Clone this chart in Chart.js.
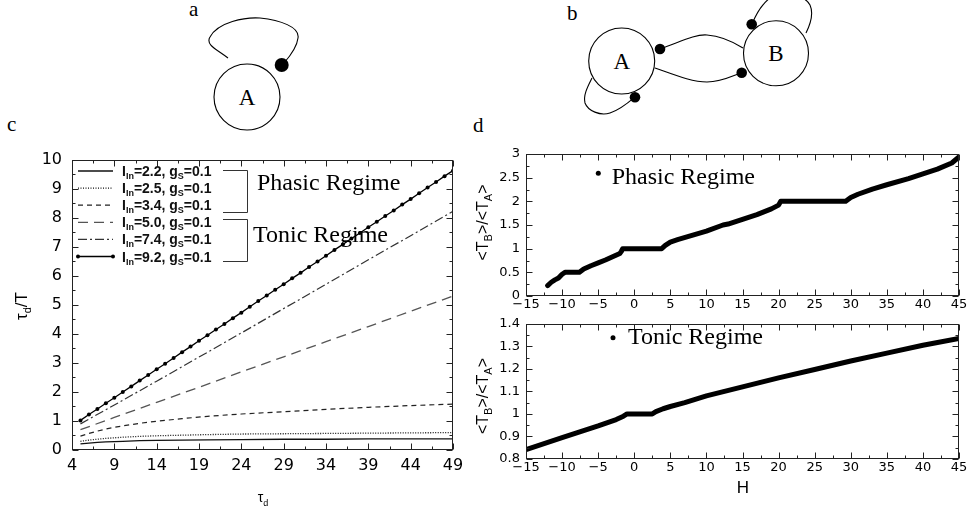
<!DOCTYPE html>
<html><head><meta charset="utf-8">
<script src="https://cdn.jsdelivr.net/npm/chart.js@4.4.1/dist/chart.umd.min.js"></script>
<style>
html,body{margin:0;padding:0;background:#fff;width:969px;height:508px;overflow:hidden;position:relative}
canvas{position:absolute}
#cc{left:0;top:140px}
#dt{left:470px;top:140px}
#db{left:470px;top:310px}
svg{position:absolute;left:0;top:0}
</style></head><body>
<svg width="969" height="140" viewBox="0 0 969 140">
  <g font-family="Liberation Serif" fill="#000">
    <text x="189" y="16" font-size="21">a</text>
    <text x="567" y="20" font-size="21">b</text>
    <text x="7" y="131" font-size="21">c</text>
    <text x="473" y="132" font-size="21">d</text>
  </g>
  <g fill="none" stroke="#000" stroke-width="1.1">
    <circle cx="247" cy="97" r="33"/>
    <path d="M228,58 C218,50 205,45 210,37 C218,22 245,17 260,18 C280,20 300,27 298,38 C297,47 291,55 284,63"/>
    <circle cx="621.7" cy="61" r="33"/>
    <circle cx="776" cy="53.3" r="32.5"/>
    <path d="M660,49 C680,42 695,34 707,35 C722,36 735,43 743,48"/>
    <path d="M655,68 C675,75 692,82 707,82 C722,82 732,76 741,73"/>
    <path d="M752,24 C757,12 762,4 770,-2 C785,-8 805,-5 810,5 C814,14 810,25 806,33"/>
    <path d="M592,78 C588,86 583,95 585,103 C588,111 600,116 610,113 C620,110 628,103 635,97"/>
  </g>
  <g fill="#000">
    <circle cx="281.7" cy="65" r="7"/>
    <circle cx="660" cy="49" r="5.3"/>
    <circle cx="741.7" cy="72.7" r="5.3"/>
    <circle cx="751.7" cy="24.3" r="5.3"/>
    <circle cx="635" cy="97.3" r="5.3"/>
  </g>
  <g font-family="Liberation Serif" font-size="23" fill="#000" text-anchor="middle">
    <text x="247" y="105">A</text>
    <text x="621.7" y="69">A</text>
    <text x="776" y="61">B</text>
  </g>
</svg>
<canvas id="cc" width="470" height="368"></canvas>
<canvas id="dt" width="499" height="176"></canvas>
<canvas id="db" width="499" height="198"></canvas>
<script>
// ---------------- data: panel c ----------------
const tauDense = [5,6,7,8,9,10,11,12,13,14,15,16,17,18,19,20,21,22,23,24,25,26,27,28,29,30,31,32,33,34,35,36,37,38,39,40,41,42,43,44,45,46,47,48,49];
const ratioI92 = [1.02,1.22,1.41,1.61,1.80,2.00,2.19,2.39,2.58,2.78,2.97,3.17,3.37,3.56,3.76,3.95,4.15,4.34,4.54,4.73,4.93,5.13,5.32,5.52,5.71,5.91,6.10,6.30,6.49,6.69,6.89,7.08,7.28,7.47,7.67,7.86,8.06,8.25,8.45,8.64,8.84,9.04,9.23,9.43,9.62];
const tauMid = [5,9,14,19,24,29,34,39,44,49];
const ratioI74 = [0.90,1.55,2.37,3.20,4.03,4.87,5.71,6.55,7.38,8.22];
const ratioI50 = [0.70,1.12,1.64,2.16,2.69,3.21,3.73,4.25,4.78,5.30];
const tauLow = [5,6,7,8,9,10,12,14,17,20,24,29,34,39,44,49];
const ratioI34 = [0.48,0.57,0.65,0.72,0.78,0.83,0.92,0.99,1.08,1.16,1.24,1.32,1.40,1.47,1.53,1.58];
const ratioI25 = [0.30,0.34,0.37,0.40,0.42,0.44,0.47,0.49,0.51,0.53,0.55,0.56,0.57,0.58,0.59,0.60];
const ratioI22 = [0.21,0.24,0.26,0.28,0.29,0.30,0.32,0.33,0.34,0.35,0.36,0.37,0.37,0.38,0.38,0.38];
const legendIin = ['2.2','2.5','3.4','5.0','7.4','9.2'];
const legendGs = '0.1';
const cXRange = [4, 49, 5];
const cYRange = [0, 10, 1];
// ---------------- data: panel d ----------------
const phasicH = [-12,-11.5,-11,-10.5,-10,-9.6,-7.6,-7,-6,-5,-4,-3,-2,-1.8,-1.6,3.8,4.3,5,6,8,10,12.3,13,15,17,19,20,20.3,29.3,30,31,33,35,38,40,42,44,45];
const phasicRatio = [0.22,0.29,0.34,0.38,0.46,0.50,0.50,0.57,0.64,0.70,0.76,0.83,0.90,0.94,1.00,1.00,1.07,1.14,1.19,1.28,1.37,1.50,1.52,1.62,1.72,1.84,1.92,2.00,2.00,2.08,2.15,2.26,2.35,2.48,2.58,2.68,2.81,2.94];
const tonicH = [-15,-10,-5,-2.5,-1.5,-1,2.5,3,4,5,7,10,15,20,25,30,35,40,45];
const tonicRatio = [0.842,0.895,0.947,0.975,0.99,1.0,1.0,1.01,1.023,1.033,1.05,1.08,1.12,1.16,1.197,1.235,1.27,1.305,1.335];
const dXRange = [-15, 45, 5];
const dTopYRange = [0, 3, 0.5];
const dBotYRange = [0.8, 1.4, 0.1];

const xy = (xs, ys) => xs.map((x, i) => ({x, y: ys[i]}));
const fmt = v => String(Math.round(v * 100) / 100).replace('-', '\u2212');

function richText(ctx, parts, x, y, align, font, subFont, subDy) {
  let w = 0;
  parts.forEach(p => { ctx.font = p[1] ? subFont : font; w += ctx.measureText(p[0]).width; });
  let cx = align === 'center' ? x - w / 2 : align === 'right' ? x - w : x;
  ctx.textAlign = 'left'; ctx.textBaseline = 'alphabetic';
  parts.forEach(p => {
    ctx.font = p[1] ? subFont : font;
    ctx.fillText(p[0], cx, y + (p[1] ? subDy : 0));
    cx += ctx.measureText(p[0]).width;
  });
}

const gnuFrame = {
  id: 'gnuFrame',
  afterDatasetsDraw(chart, args, o) {
    const {ctx, chartArea: a} = chart;
    const xs = chart.scales.x, ys = chart.scales.y;
    ctx.save();
    ctx.strokeStyle = '#222'; ctx.lineWidth = 1; ctx.setLineDash([]);
    const L = Math.round(a.left) + 0.5, R = Math.round(a.right) - 0.5, T = Math.round(a.top) + 0.5, B = Math.round(a.bottom) - 0.5;
    ctx.strokeRect(L, T, R - L, B - T);
    const ticksOf = (scale, sub) => {
      const maj = scale.ticks.map(t => t.value); const out = [];
      maj.forEach((v, i) => {
        out.push([v, 6]);
        if (i < maj.length - 1) for (let k = 1; k < sub; k++) out.push([v + (maj[i + 1] - v) * k / sub, 3]);
      });
      return out;
    };
    ctx.beginPath();
    ticksOf(xs, o.xMinor).forEach(([v, len]) => {
      const p = Math.round(xs.getPixelForValue(v)) + 0.5;
      ctx.moveTo(p, B); ctx.lineTo(p, B - len);
      ctx.moveTo(p, T); ctx.lineTo(p, T + len);
    });
    ticksOf(ys, o.yMinor).forEach(([v, len]) => {
      const p = Math.round(ys.getPixelForValue(v)) + 0.5;
      ctx.moveTo(L, p); ctx.lineTo(L + len, p);
      ctx.moveTo(R, p); ctx.lineTo(R - len, p);
    });
    ctx.stroke();
    ctx.restore();
  }
};

const cDecor = {
  id: 'cDecor',
  afterDraw(chart) {
    const ctx = chart.ctx; ctx.save();
    chart.data.datasets.forEach((ds, i) => {
      const y = 31 + i * 17.1;
      ctx.strokeStyle = ds.borderColor; ctx.lineWidth = ds.borderWidth; ctx.setLineDash(ds.borderDash || []);
      ctx.beginPath(); ctx.moveTo(78, y); ctx.lineTo(113, y); ctx.stroke();
      ctx.setLineDash([]);
      if (ds.pointRadius > 0) {
        ctx.fillStyle = '#000';
        [78, 113].forEach(px => { ctx.beginPath(); ctx.arc(px, y, ds.pointRadius, 0, Math.PI * 2); ctx.fill(); });
      }
      ctx.fillStyle = '#111';
      richText(ctx, [['I', 0], ['In', 1], ['=' + legendIin[i] + ', g', 0], ['S', 1], ['=' + legendGs, 0]],
        122, y + 5, 'left', 'bold 14px "Liberation Sans"', 'bold 9px "Liberation Sans"', 3);
    });
    ctx.strokeStyle = '#333'; ctx.lineWidth = 1;
    ctx.beginPath();
    ctx.moveTo(223, 30.5); ctx.lineTo(247.5, 30.5); ctx.lineTo(247.5, 72.5); ctx.lineTo(223, 72.5);
    ctx.moveTo(223, 79.5); ctx.lineTo(247.5, 79.5); ctx.lineTo(247.5, 121.5); ctx.lineTo(223, 121.5);
    ctx.stroke();
    ctx.fillStyle = '#000';
    ctx.font = '24px "Liberation Serif"'; ctx.textAlign = 'left'; ctx.textBaseline = 'alphabetic';
    ctx.fillText('Phasic Regime', 257, 50);
    ctx.fillText('Tonic Regime', 253, 101.5);
    // axis titles
    richText(ctx, [['\u03c4', 0], ['d', 1]], 263, 362, 'center', '14px "Liberation Sans"', '9px "Liberation Sans"', 4);
    ctx.translate(27, 166); ctx.rotate(-Math.PI / 2);
    richText(ctx, [['\u03c4', 0], ['d', 1], ['/T', 0]], 0, 0, 'center', '17px "Liberation Sans"', '11px "Liberation Sans"', 4);
    ctx.restore();
  }
};

function dDecor(id, label, dot, textPos, yCenter, showH) {
  return {
    id,
    afterDraw(chart) {
      const ctx = chart.ctx; ctx.save();
      ctx.fillStyle = '#000';
      ctx.beginPath(); ctx.arc(dot[0], dot[1], 2.5, 0, Math.PI * 2); ctx.fill();
      ctx.font = '24px "Liberation Serif"'; ctx.textAlign = 'left'; ctx.textBaseline = 'alphabetic';
      ctx.fillText(label, textPos[0], textPos[1]);
      if (showH) {
        ctx.font = '17px "Liberation Sans"'; ctx.textAlign = 'center';
        ctx.fillText('H', 273, 183);
      }
      ctx.translate(18, yCenter); ctx.rotate(-Math.PI / 2);
      richText(ctx, [['<T', 0], ['B', 1], ['>/<T', 0], ['A', 1], ['>', 0]], 0, 0, 'center', '16px "Liberation Sans"', '11px "Liberation Sans"', 4);
      ctx.restore();
    }
  };
}

const cStyles = [
  {color: '#111', dash: [], w: 1.3, r: 0},
  {color: '#111', dash: [1, 1.5], w: 1.3, r: 0},
  {color: '#222', dash: [5, 4], w: 1.2, r: 0},
  {color: '#555', dash: [10, 6], w: 1.3, r: 0},
  {color: '#333', dash: [9, 3, 2, 3], w: 1.2, r: 0},
  {color: '#000', dash: [], w: 1.3, r: 2}
];
const cData = [xy(tauLow, ratioI22), xy(tauLow, ratioI25), xy(tauLow, ratioI34), xy(tauMid, ratioI50), xy(tauMid, ratioI74), xy(tauDense, ratioI92)];

const tickFontC = {family: 'DejaVu Sans', size: 16};
const tickFontD = {family: 'DejaVu Sans', size: 13};
const common = {responsive: false, animation: false, devicePixelRatio: 1};

new Chart(document.getElementById('cc'), {
  type: 'line',
  data: {datasets: cData.map((d, i) => ({
    label: 'I_In=' + legendIin[i] + ', g_S=' + legendGs, data: d,
    borderColor: cStyles[i].color, borderDash: cStyles[i].dash, borderWidth: cStyles[i].w,
    pointRadius: cStyles[i].r, pointBackgroundColor: '#000', pointBorderWidth: 0, tension: 0, fill: false
  }))},
  options: Object.assign({}, common, {
    layout: {padding: {top: 14, right: 17, left: 0, bottom: 0}},
    plugins: {legend: {display: false}, tooltip: {enabled: false}, gnuFrame: {xMinor: 2, yMinor: 2}},
    scales: {
      x: {type: 'linear', min: cXRange[0], max: cXRange[1],
        ticks: {stepSize: cXRange[2], padding: 6, font: tickFontC, color: '#000', maxRotation: 0, autoSkip: false, callback: fmt},
        grid: {display: false, drawTicks: false}, border: {display: false}, afterFit: s => { s.height = 58; }},
      y: {type: 'linear', min: cYRange[0], max: cYRange[1],
        ticks: {stepSize: cYRange[2], padding: 10, font: tickFontC, color: '#000', autoSkip: false, callback: fmt},
        grid: {display: false, drawTicks: false}, border: {display: false}, afterFit: s => { s.width = 72; }}
    }
  }),
  plugins: [gnuFrame, cDecor]
});

function dChart(el, H, R, yr, padTop, xAxisH, decor) {
  return new Chart(document.getElementById(el), {
    type: 'line',
    data: {datasets: [{data: xy(H, R), borderColor: '#000', borderWidth: 5, pointRadius: 0, tension: 0, borderJoinStyle: 'round', borderCapStyle: 'round'}]},
    options: Object.assign({}, common, {
      layout: {padding: {top: padTop, right: 10, left: 0, bottom: 0}},
      plugins: {legend: {display: false}, tooltip: {enabled: false}, gnuFrame: {xMinor: 2, yMinor: yr === dTopYRange ? 2 : 2}},
      scales: {
        x: {type: 'linear', min: dXRange[0], max: dXRange[1],
          ticks: {stepSize: dXRange[2], padding: 1, font: tickFontD, color: '#000', maxRotation: 0, autoSkip: false, callback: fmt},
          grid: {display: false, drawTicks: false}, border: {display: false}, afterFit: s => { s.height = xAxisH; }},
        y: {type: 'linear', min: yr[0], max: yr[1],
          ticks: {stepSize: yr[2], padding: 6, font: tickFontD, color: '#000', autoSkip: false, callback: fmt},
          grid: {display: false, drawTicks: false}, border: {display: false}, afterFit: s => { s.width = 56; }}
      }
    }),
    plugins: [gnuFrame, decor]
  });
}
dChart('dt', phasicH, phasicRatio, dTopYRange, 14, 20, dDecor('dTopDecor', 'Phasic Regime', [128.3, 33.3], [141.7, 44.3], 82.5, false));
dChart('db', tonicH, tonicRatio, dBotYRange, 6, 49, dDecor('dBotDecor', 'Tonic Regime', [143, 27.7], [158, 34], 86, true));
</script>
</body></html>
